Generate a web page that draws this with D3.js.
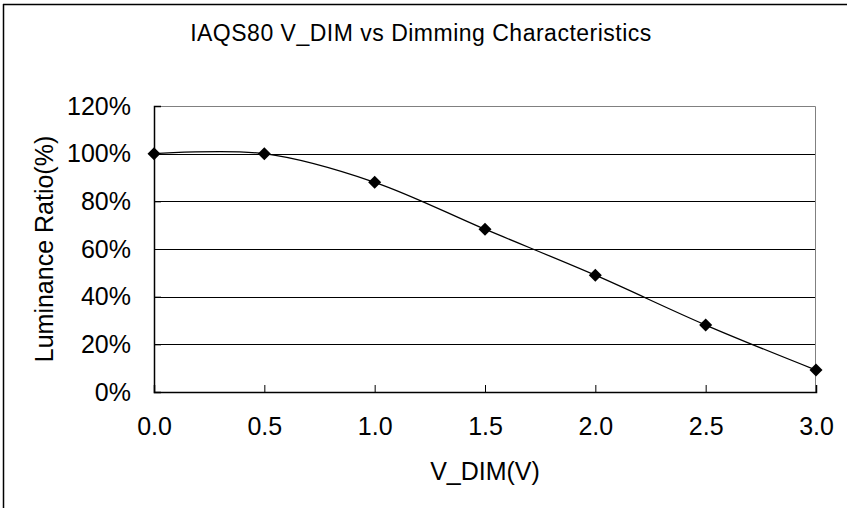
<!DOCTYPE html>
<html>
<head>
<meta charset="utf-8">
<script src="https://cdn.jsdelivr.net/npm/d3@7"></script>
<style>
  body { margin: 0; background: #fff; }
  text { font-family: "Liberation Sans", Arial, sans-serif; fill: #000; }
</style>
</head>
<body>
<svg id="chart"></svg>
<script>
// data
const vDim = [0.0, 0.5, 1.0, 1.5, 2.0, 2.5, 3.0];
const luminance = [100, 100, 88, 68.3, 49, 28.1, 9.2];
const xTicks = [0.0, 0.5, 1.0, 1.5, 2.0, 2.5, 3.0];
const yTicks = [0, 20, 40, 60, 80, 100, 120];
const titleText = "IAQS80 V_DIM vs Dimming Characteristics";
const xTitle = "V_DIM(V)";
const yTitle = "Luminance Ratio(%)";

const W = 847, H = 508;
const margin = { top: 106, right: 31, bottom: 116, left: 154 };
const width = W - margin.left - margin.right;
const height = H - margin.top - margin.bottom;
const FONT = "Liberation Sans, Arial, sans-serif";

const svg = d3.select("#chart").attr("width", W).attr("height", H);

// outer frame (only top and left edges show)
svg.append("line").attr("x1", 3).attr("x2", W).attr("y1", 4.5).attr("y2", 4.5)
  .attr("stroke", "#000").attr("stroke-width", 1.5);
svg.append("line").attr("x1", 3.5).attr("x2", 3.5).attr("y1", 4).attr("y2", H)
  .attr("stroke", "#000").attr("stroke-width", 1.5);

const x = d3.scaleLinear().domain([0, 3]).range([0, width]);
const y = d3.scaleLinear().domain([0, 120]).range([height, 0]);

const g = svg.append("g").attr("transform", `translate(${margin.left},${margin.top})`);

// gridlines
g.selectAll(".grid").data(yTicks.filter(d => d > 0 && d < 120)).enter()
  .append("line").attr("class", "grid")
  .attr("x1", 0).attr("x2", width)
  .attr("y1", d => Math.round(y(d)) + 0.5).attr("y2", d => Math.round(y(d)) + 0.5)
  .attr("stroke", "#000").attr("stroke-width", 1);

// plot frame: top/right gray
g.append("path")
  .attr("d", `M0,0.5H${width - 0.5}V${height}`)
  .attr("fill", "none").attr("stroke", "#808080").attr("stroke-width", 1);

// axes
const xAxis = d3.axisBottom(x).tickValues(xTicks).tickSize(-7).tickFormat(d3.format(".1f")).tickPadding(25);
const yAxis = d3.axisLeft(y).tickValues(yTicks).tickSize(-7).tickFormat(d => d + "%").tickPadding(23);

const gx = g.append("g").attr("transform", `translate(0,${height})`).call(xAxis);
gx.select(".domain").attr("stroke", "#000").attr("stroke-width", 1.5);
gx.selectAll(".tick line").attr("stroke", "#000");
gx.selectAll("text").attr("font-size", 25).style("font-family", FONT);

const gy = g.append("g").call(yAxis);
gy.select(".domain").attr("stroke", "#000").attr("stroke-width", 1.5);
gy.selectAll(".tick line").attr("stroke", "#000");
gy.selectAll("text").attr("font-size", 25).style("font-family", FONT);

// smoothed line
const line = d3.line()
  .x((d, i) => x(vDim[i]))
  .y(d => y(d))
  .curve(d3.curveCatmullRom.alpha(0));
g.append("path").attr("d", line(luminance))
  .attr("fill", "none").attr("stroke", "#000").attr("stroke-width", 1.3);

// diamond markers
const diamond = d3.symbol().type(d3.symbolDiamond2).size(108);
g.selectAll(".pt").data(luminance).enter()
  .append("path").attr("class", "pt")
  .attr("transform", (d, i) => `translate(${x(vDim[i])},${y(d)})`)
  .attr("d", diamond)
  .attr("fill", "#000");

// titles
svg.append("text").attr("x", 421).attr("y", 41)
  .attr("text-anchor", "middle").attr("font-size", 23)
  .attr("letter-spacing", 0.5).text(titleText);
svg.append("text").attr("x", margin.left + width / 2).attr("y", 480)
  .attr("text-anchor", "middle").attr("font-size", 25).text(xTitle);
svg.append("text").attr("transform", `translate(53,${margin.top + height / 2}) rotate(-90)`)
  .attr("text-anchor", "middle").attr("font-size", 25).text(yTitle);
</script>
</body>
</html>
